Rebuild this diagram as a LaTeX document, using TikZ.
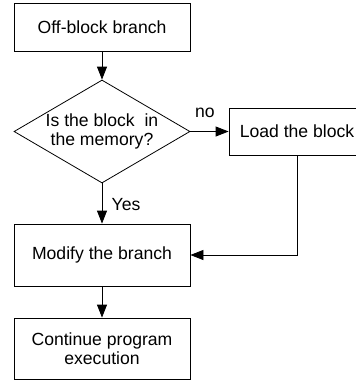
\documentclass[tikz,border=0pt]{standalone}
\usepackage{fontspec}
\setmainfont{Liberation Sans}
\usetikzlibrary{shapes.geometric,arrows.meta}
\begin{document}
\begin{tikzpicture}[x=1pt,y=-1pt,
  every node/.style={font=\fontsize{17.6}{19}\selectfont},
  box/.style={draw,line width=0.8pt,rectangle,inner sep=0pt,align=center},
  conn/.style={line width=0.8pt,-{Triangle[length=13pt,width=10pt]}},
  lbl/.style={inner sep=0pt}]
\useasboundingbox (0,0) rectangle (356,381);
\node[box,minimum width=176pt,minimum height=48pt] (start) at (102,27) {Off-block branch};
\node[draw,line width=0.8pt,diamond,inner sep=0pt,minimum width=176pt,minimum height=103pt] (dia) at (102,131.5) {};
\node[lbl,align=center] (diatext) at (102,131) {Is the block\ \ in\\the memory?};
\node[box,minimum width=136pt,minimum height=47pt] (load) at (297,131.5) {Load the block};
\node[box,minimum width=176pt,minimum height=62pt] (mod) at (102,255) {Modify the branch};
\node[box,minimum width=176pt,minimum height=61pt] (cont) at (102,348.5) {Continue program\\execution};
\node[lbl] (no) at (205,113) {no};
\node[lbl] (yes) at (126,205) {Yes};
\draw[conn] (start.south) -- (dia.north);
\draw[conn] (dia.east) -- (load.west);
\draw[conn] (dia.south) -- (mod.north);
\draw[conn] (load.south) |- (mod.east);
\draw[conn] (mod.south) -- (cont.north);
\end{tikzpicture}
\end{document}
